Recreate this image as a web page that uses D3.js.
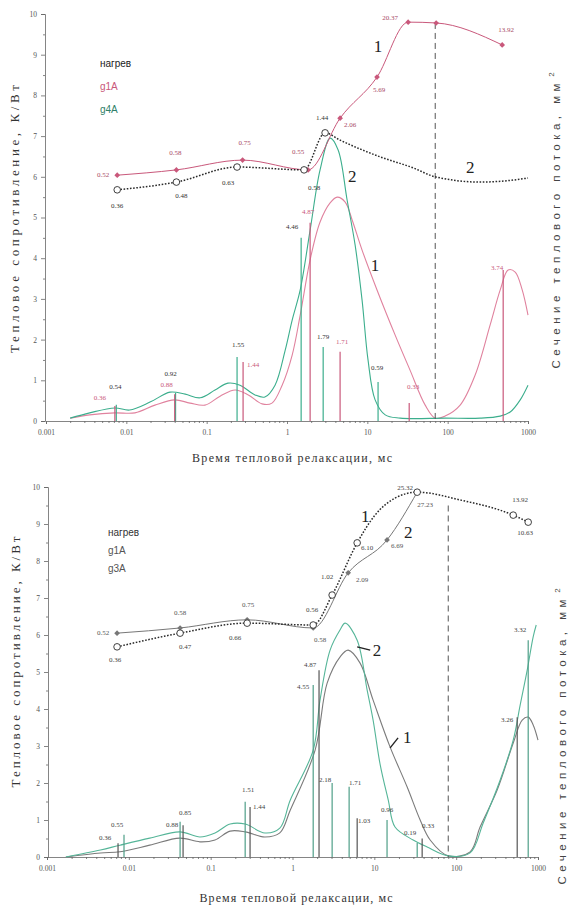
<!DOCTYPE html>
<html>
<head>
<meta charset="utf-8">
<script src="https://cdn.jsdelivr.net/npm/d3@7"></script>
<style>
  body { margin: 0; background: #fff; }
  svg { display: block; }
</style>
</head>
<body>
<svg id="chart" width="576" height="906"></svg>
<script>
// ---------- общие оси ----------
const xTicks = [0.001, 0.01, 0.1, 1, 10, 100, 1000];
const xTickLabels = ['0.001', '0.01', '0.1', '1', '10', '100', '1000'];
const yTicks = [0, 1, 2, 3, 4, 5, 6, 7, 8, 9, 10];

// ---------- верхний график (g1A / g4A) ----------
const topLegend = ['нагрев', 'g1A', 'g4A'];

// кривая 1: тепловое сопротивление g1A
const topCurve1 = [[0.0077, 6.04], [0.042, 6.17], [0.28, 6.41], [1.83, 6.17], [4.58, 7.44], [13.2, 8.45], [32.2, 9.8], [71.9, 9.78], [477, 9.24]];
const topCurve1Labels = ['0.52', '0.58', '0.75', '0.55', '2.06', '5.69', '20.37', '', '13.92'];
// кривая 2: тепловое сопротивление g4A
const topCurve2 = [[0.0077, 5.68], [0.042, 5.87], [0.239, 6.24], [1.63, 6.17], [2.98, 7.08]];
const topCurve2Labels = ['0.36', '0.48', '0.63', '0.58', '1.44'];
const topCurve2Tail = [[2.98, 7.08], [4.58, 6.9], [14.4, 6.49], [37.2, 6.22], [69.8, 6.0], [254, 5.87], [654, 5.92], [1000, 5.97]];

// спектры сечения теплового потока
const topSpecG4A = [[0.002, 0.07], [0.0035, 0.2], [0.0072, 0.32], [0.011, 0.27], [0.02, 0.47], [0.035, 0.71], [0.054, 0.66], [0.083, 0.57], [0.127, 0.76], [0.184, 0.93], [0.26, 0.88], [0.4, 0.64], [0.53, 0.59], [0.71, 0.88], [0.95, 1.74], [1.16, 2.48], [1.46, 3.22], [1.94, 4.69], [2.58, 6.17], [3.44, 6.95], [4.33, 6.66], [5.6, 5.43], [7.05, 4.32], [8.6, 2.97], [10.2, 1.5], [12.5, 0.52], [16.7, 0.15], [25.6, 0.07], [93, 0.07], [254, 0.07], [451, 0.12], [600, 0.22], [800, 0.52], [1000, 0.88]];
const topSpecG1A = [[0.002, 0.07], [0.0035, 0.15], [0.0072, 0.2], [0.0128, 0.2], [0.0227, 0.39], [0.04, 0.52], [0.062, 0.44], [0.095, 0.39], [0.147, 0.61], [0.226, 0.76], [0.33, 0.64], [0.49, 0.42], [0.65, 0.44], [0.87, 0.88], [1.16, 1.62], [1.46, 2.6], [1.94, 3.96], [2.58, 4.89], [3.44, 5.36], [4.21, 5.5], [5.3, 5.38], [6.47, 4.94], [8.6, 4.2], [13.2, 3.22], [22.2, 2.11], [34, 1.25], [52.5, 0.39], [70, 0.07], [93, 0.12], [143, 0.39], [220, 1.13], [338, 2.36], [451, 3.22], [566, 3.71], [693, 3.66], [847, 3.22], [1000, 2.6]];

// пики спектров
const topBarsG4A = [[0.0075, 0.4], [0.041, 0.69], [0.239, 1.57], [1.5, 4.5], [2.82, 1.82], [13.6, 0.96]];
const topBarsG4ALabels = ['0.54', '0.92', '1.55', '4.46', '1.79', '0.59'];
const topBarsG1A = [[0.0072, 0.37], [0.04, 0.66], [0.284, 1.45], [1.94, 4.87], [4.58, 1.7], [33.2, 0.44], [491, 3.71]];
const topBarsG1ALabels = ['0.36', '0.88', '1.44', '4.87', '1.71', '0.33', '3.74'];

const topDashT = 70;
const topNotes = [{t: 13.6, v: 9.19, text: '1'}, {t: 6.47, v: 6.0, text: '2'}, {t: 191, v: 6.24, text: '2'}, {t: 12.5, v: 3.83, text: '1'}];

// ---------- нижний график (g1A / g3A) ----------
const botLegend = ['нагрев', 'g1A', 'g3A'];

const botCurve2 = [[0.00718, 6.05], [0.0423, 6.19], [0.279, 6.41], [1.79, 6.19], [4.79, 7.68], [14.3, 8.57], [33.4, 9.86]];
const botCurve2Labels = ['0.52', '0.58', '0.75', '0.58', '2.09', '6.69', '27.23'];
const botCurve1 = [[0.00718, 5.68], [0.0423, 6.05], [0.279, 6.32], [1.79, 6.27], [3.05, 7.08], [6.17, 8.49], [10.2, 9.24], [17.9, 9.7], [33.4, 9.86], [112, 9.65], [498, 9.24], [759, 9.05]];
const botCurve1Labels = ['0.36', '0.47', '0.66', '0.56', '1.02', '6.10', '', '', '25.32', '', '13.92', '10.63'];

const botSpecG3A = [[0.0017, 0], [0.0045, 0.19], [0.0078, 0.32], [0.018, 0.51], [0.042, 0.68], [0.074, 0.54], [0.113, 0.65], [0.173, 0.89], [0.264, 0.89], [0.46, 0.65], [0.7, 0.78], [0.94, 1.54], [1.79, 2.89], [2.17, 4.24], [2.88, 5.59], [3.82, 6.14], [4.4, 6.32], [6.17, 5.86], [8.17, 4.51], [9.66, 3.7], [11.8, 2.49], [14.8, 1.54], [17.9, 0.81], [29.8, 0.46], [44.2, 0.27], [80, 0.03], [148, 0.11], [214, 0.92], [345, 2.08], [498, 3.16], [606, 4.11], [738, 5.05], [873, 5.95], [951, 6.27]];
const botSpecG1A = [[0.0017, 0], [0.0045, 0.11], [0.0078, 0.14], [0.018, 0.32], [0.042, 0.51], [0.074, 0.41], [0.113, 0.46], [0.173, 0.7], [0.264, 0.68], [0.46, 0.54], [0.7, 0.65], [0.94, 1.27], [1.89, 2.89], [2.65, 4.7], [3.82, 5.41], [4.79, 5.59], [6.7, 5.24], [9.66, 4.24], [15.6, 2.97], [25.2, 1.89], [36.3, 1.0], [48.1, 0.46], [80, 0.03], [148, 0.14], [196, 0.81], [317, 1.81], [498, 3.08], [641, 3.7], [759, 3.78], [873, 3.57], [1000, 3.16]];

const botBarsG3A = [[0.00873, 0.6], [0.0423, 0.95], [0.264, 1.49], [1.79, 4.65], [3.05, 2.0], [4.92, 1.9], [14.3, 1.0], [33.4, 0.38], [759, 5.86]];
const botBarsG3ALabels = ['0.55', '0.85', '1.51', '4.55', '2.18', '1.71', '0.96', '0.19', '3.32'];
const botBarsG1A = [[0.00738, 0.37], [0.046, 0.86], [0.303, 1.35], [2.11, 5.05], [6.17, 1.05], [38.4, 0.5], [557, 3.78]];
const botBarsG1ALabels = ['0.36', '0.88', '1.44', '4.87', '1.03', '0.33', '3.26'];

const botDashT = 80;
const botNotes = [{t: 7.73, v: 9.19, text: '1'}, {t: 25.9, v: 8.76, text: '2'}, {t: 10.8, v: 5.59, text: '2'}, {t: 25.2, v: 3.22, text: '1'}];
const botLeaders = [[[6.17, 5.68], [8.9, 5.59]], [[15.6, 2.95], [19.5, 3.22]]];

// ---------- оформление ----------
const SERIF = '"Liberation Serif", "DejaVu Serif", serif';
const SANS = '"Liberation Sans", Arial, sans-serif';
const svg = d3.select('#chart');

function drawPanel(P) {
  const x = d3.scaleLog().domain([0.001, 1000]).range(P.xRange);
  const y = d3.scaleLinear().domain([0, 10]).range(P.yRange);
  const g = svg.append('g');
  const y0 = P.yRange[0];

  // оси
  g.append('g').attr('class', 'axis')
    .attr('transform', `translate(${P.axisX},0)`)
    .call(d3.axisLeft(y).tickValues(yTicks).tickSize(4).tickPadding(4).tickFormat(d3.format('d')));
  g.append('g').attr('class', 'axis')
    .attr('transform', `translate(${P.axisX},0)`)
    .call(d3.axisLeft(y).tickValues(d3.range(0.5, 10, 1)).tickSize(2).tickFormat(''))
    .select('.domain').remove();

  g.append('g').attr('class', 'axis')
    .attr('transform', `translate(0,${y0})`)
    .call(d3.axisBottom(x).tickValues(xTicks).tickSize(3).tickPadding(6).tickFormat((d, i) => xTickLabels[i]));
  const minor = [];
  xTicks.slice(0, -1).forEach(d => { for (let k = 2; k < 10; k++) minor.push(d * k); });
  g.append('g').attr('class', 'axis')
    .attr('transform', `translate(0,${y0})`)
    .call(d3.axisBottom(x).tickValues(minor).tickSize(2).tickFormat(''))
    .select('.domain').remove();

  g.selectAll('.axis .tick text')
    .style('font-family', SERIF).style('font-size', '7.5px').attr('fill', '#555');
  g.selectAll('.axis .domain, .axis .tick line')
    .attr('stroke', '#666').attr('stroke-width', 0.8);

  const smooth = d3.line().x(d => x(d[0])).y(d => y(d[1])).curve(d3.curveCatmullRom.alpha(0.5));
  const mono = d3.line().x(d => x(d[0])).y(d => y(d[1])).curve(d3.curveMonotoneX);

  // спектры
  P.specs.forEach(s => {
    g.append('path').datum(s.data)
      .attr('d', smooth).attr('fill', 'none')
      .attr('stroke', s.color).attr('stroke-width', 1.1);
  });

  // пики
  P.bars.forEach(b => {
    g.append('g').selectAll('line').data(b.data).join('line')
      .attr('x1', d => x(d[0])).attr('x2', d => x(d[0]))
      .attr('y1', y(0)).attr('y2', d => y(d[1]))
      .attr('stroke', b.color).attr('stroke-width', 1.2);
    addLabels(b.data, b.labels, b.offsets, b.textColor);
  });

  // вертикальная штриховая линия
  g.append('line')
    .attr('x1', x(P.dash.t)).attr('x2', x(P.dash.t))
    .attr('y1', y(P.dash.from)).attr('y2', y(0))
    .attr('stroke', '#555').attr('stroke-width', 1).attr('stroke-dasharray', '6,4');

  // кривые теплового сопротивления
  P.curves.forEach(c => {
    g.append('path').datum(c.path || c.data)
      .attr('d', mono).attr('fill', 'none')
      .attr('stroke', c.color).attr('stroke-width', c.dotted ? 1.5 : 1)
      .attr('stroke-dasharray', c.dotted ? '1.6,1.6' : null);
    const pts = c.data.filter((d, i) => c.markers[i]);
    if (c.marker === 'circle') {
      g.append('g').selectAll('circle').data(pts).join('circle')
        .attr('cx', d => x(d[0])).attr('cy', d => y(d[1])).attr('r', 3.3)
        .attr('fill', '#fff').attr('stroke', c.color).attr('stroke-width', 0.9);
    } else {
      g.append('g').selectAll('rect').data(pts).join('rect')
        .attr('x', d => x(d[0]) - 2).attr('y', d => y(d[1]) - 2)
        .attr('width', 4).attr('height', 4)
        .attr('transform', d => `rotate(45,${x(d[0])},${y(d[1])})`)
        .attr('fill', c.color);
    }
    addLabels(c.data, c.labels, c.offsets, c.textColor);
  });

  // номера кривых
  g.append('g').selectAll('text').data(P.notes).join('text')
    .attr('x', d => x(d.t)).attr('y', d => y(d.v))
    .attr('text-anchor', 'middle').attr('dominant-baseline', 'central')
    .style('font-family', SERIF).style('font-size', '17px').attr('fill', '#222')
    .text(d => d.text);
  g.append('g').selectAll('line').data(P.leaders || []).join('line')
    .attr('x1', d => x(d[0][0])).attr('y1', d => y(d[0][1]))
    .attr('x2', d => x(d[1][0])).attr('y2', d => y(d[1][1]))
    .attr('stroke', '#222').attr('stroke-width', 1.4);

  // легенда
  g.append('g').selectAll('text').data(P.legend).join('text')
    .attr('x', P.legendPos[0]).attr('y', (d, i) => P.legendPos[1] + i * P.legendStep)
    .attr('dominant-baseline', 'central')
    .style('font-family', SANS).style('font-size', '10px')
    .attr('fill', (d, i) => P.legendColors[i])
    .text(d => d);

  // подписи осей
  g.append('text')
    .attr('transform', `translate(${P.yTitle[0]},${P.yTitle[1]}) rotate(-90)`)
    .attr('text-anchor', 'middle').attr('dominant-baseline', 'central')
    .attr('textLength', P.yTitle[2]).attr('lengthAdjust', 'spacing')
    .style('font-family', SERIF).style('font-size', '13px').attr('fill', '#333')
    .text('Тепловое сопротивление, К/Вт');
  g.append('text')
    .attr('transform', `translate(${P.rTitle[0]},${P.rTitle[1]}) rotate(-90)`)
    .attr('text-anchor', 'middle').attr('dominant-baseline', 'central')
    .attr('textLength', P.rTitle[2]).attr('lengthAdjust', 'spacing')
    .style('font-family', SANS).style('font-size', '11.5px').attr('fill', '#444')
    .text('Сечение теплового потока, мм');
  g.append('text')
    .attr('transform', `translate(${P.rTitle[0] - 5},${P.rTitle[1] - P.rTitle[2] / 2 - 9}) rotate(-90)`)
    .attr('text-anchor', 'middle').attr('dominant-baseline', 'central')
    .style('font-family', SANS).style('font-size', '8px').attr('fill', '#444')
    .text('2');
  g.append('text')
    .attr('x', P.xTitle[0]).attr('y', P.xTitle[1])
    .attr('text-anchor', 'middle').attr('dominant-baseline', 'central')
    .attr('textLength', P.xTitle[2]).attr('lengthAdjust', 'spacing')
    .style('font-family', SERIF).style('font-size', '12px').attr('fill', '#333')
    .text('Время тепловой релаксации, мс');

  function addLabels(data, texts, offs, color) {
    g.append('g').selectAll('text')
      .data(data.map((d, i) => ({d, t: texts[i], o: offs[i]})).filter(e => e.t))
      .join('text')
      .attr('x', e => x(e.d[0]) + e.o[0]).attr('y', e => y(e.d[1]) + e.o[1])
      .attr('text-anchor', 'middle').attr('dominant-baseline', 'central')
      .style('font-family', SERIF).style('font-size', '7px')
      .attr('fill', color)
      .text(e => e.t);
  }
}

const RED = '#c9587b', PINK = '#e0829e', TEAL = '#3cae8d', INK = '#2a2a2a';

drawPanel({
  xRange: [46, 528], yRange: [421, 14], axisX: 45,
  specs: [{data: topSpecG1A, color: PINK}, {data: topSpecG4A, color: TEAL}],
  bars: [
    {data: topBarsG4A, labels: topBarsG4ALabels, color: TEAL, textColor: '#333',
     offsets: [[-1, -18], [-5, -19], [1, -12], [-9, -11], [0, -10], [-1, -14]]},
    {data: topBarsG1A, labels: topBarsG1ALabels, color: RED, textColor: RED,
     offsets: [[-15, -8], [-8, -9], [10, 3], [-2, -11], [2, -10], [4, -16], [-6, -2]]}
  ],
  dash: {t: topDashT, from: 9.78},
  curves: [
    {data: topCurve1, markers: topCurve1.map(() => true), marker: 'diamond', color: RED, textColor: '#a84a66',
     labels: topCurve1Labels,
     offsets: [[-14, 0], [-1, -17], [2, -17], [-10, -18], [10, 7], [2, 13], [-18, -4], [0, 0], [4, -15]]},
    {data: topCurve2, path: topCurve2.concat(topCurve2Tail.slice(1)), markers: topCurve2.map(() => true),
     marker: 'circle', dotted: true, color: INK, textColor: '#333',
     labels: topCurve2Labels,
     offsets: [[0, 16], [5, 14], [-9, 16], [10, 18], [-3, -15]]}
  ],
  notes: topNotes,
  legend: topLegend, legendColors: ['#222', RED, '#2f7f68'], legendPos: [100, 63], legendStep: 23,
  yTitle: [14, 219, 268], rTitle: [556, 226, 285], xTitle: [292, 458, 200]
});

drawPanel({
  xRange: [47, 538], yRange: [857, 487], axisX: 48,
  specs: [{data: botSpecG1A, color: '#7b7b7b'}, {data: botSpecG3A, color: '#55b598'}],
  bars: [
    {data: botBarsG3A, labels: botBarsG3ALabels, color: '#4f9f88', textColor: '#444',
     offsets: [[-7, -10], [5, -9], [3, -12], [-10, 2], [-7, -3], [6, -4], [0, -10], [-7, -10], [-8, -10]]},
    {data: botBarsG1A, labels: botBarsG1ALabels, color: '#555', textColor: '#444',
     offsets: [[-13, -5], [-11, 0], [9, 0], [-9, -5], [7, 3], [6, -13], [-10, 3]]}
  ],
  dash: {t: botDashT, from: 9.5},
  curves: [
    {data: botCurve2, markers: botCurve2.map(() => true), marker: 'diamond', color: '#777', textColor: '#555',
     labels: botCurve2Labels,
     offsets: [[-14, 0], [0, -15], [1, -15], [7, 12], [14, 7], [10, 6], [8, 13]]},
    {data: botCurve1, markers: botCurve1Labels.map(t => t !== ''), marker: 'circle', dotted: true,
     color: INK, textColor: '#444',
     labels: botCurve1Labels,
     offsets: [[-2, 13], [5, 14], [-12, 15], [-1, -15], [-5, -18], [10, 5], [0, 0], [0, 0], [-12, -4], [0, 0], [7, -15], [-3, 11]]}
  ],
  notes: botNotes, leaders: botLeaders,
  legend: botLegend, legendColors: ['#333', '#555', '#555'], legendPos: [108, 532], legendStep: 18,
  yTitle: [15, 662, 251], rTitle: [562, 742, 285], xTitle: [296, 898, 193]
});
</script>
</body>
</html>
